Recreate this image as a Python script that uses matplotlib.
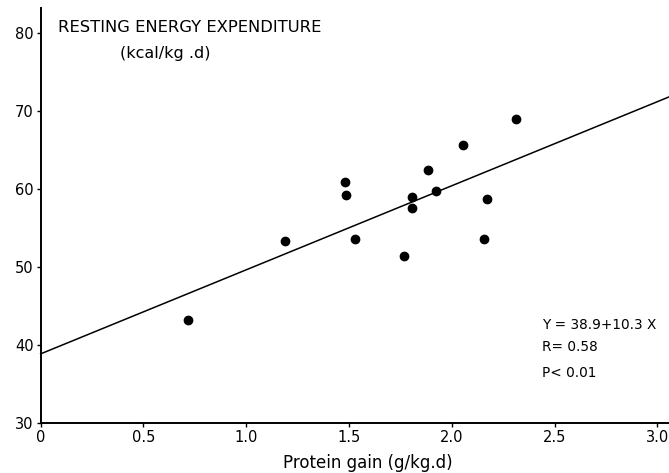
import numpy as np
import matplotlib
matplotlib.use("Agg")
from matplotlib import pyplot as plt

# protein gain (g/kg.d) vs resting energy expenditure (kcal/kg.d)
protein_gain = [0.715, 1.189, 1.481, 1.486, 1.529, 1.766, 1.807,
                1.805, 1.886, 1.924, 2.054, 2.173, 2.157, 2.314]
ree = [43.2, 53.4, 60.9, 59.3, 53.6, 51.4, 59.0,
       57.6, 62.5, 59.7, 65.6, 58.7, 53.6, 69.0]

# regression line as drawn in the figure (read at x = 0 and x = 3.0)
line_x = [0.0, 3.0]
line_y = [38.9, 71.2]

x_ticks = [0, 0.5, 1.0, 1.5, 2.0, 2.5, 3.0]
x_labels = ["0", "0.5", "1.0", "1.5", "2.0", "2.5", "3.0"]
y_ticks = [30, 40, 50, 60, 70, 80]

plt.rcParams['font.family'] = ['DejaVu Sans']

W, H = 669, 473
fig = plt.figure(figsize=(W / 100, H / 100), dpi=100)
ax = fig.add_axes([0.0608, 0.105, 0.9392, 0.878])

x_max = 3.057
ax.set_xlim(0, x_max)
ax.set_ylim(30, 83.2)

# extend the line to the right edge of the axes
k = (line_y[1] - line_y[0]) / (line_x[1] - line_x[0])
xx = np.array([line_x[0], x_max])
ax.plot(xx, line_y[0] + k * (xx - line_x[0]), color='black', lw=1.1, clip_on=False)
ax.scatter(protein_gain, ree, s=36, color='black', zorder=3)

ax.spines['top'].set_visible(False)
ax.spines['right'].set_visible(False)
ax.spines['left'].set_linewidth(1.4)
ax.spines['bottom'].set_linewidth(1.4)

ax.set_xticks(x_ticks)
ax.set_xticklabels(x_labels)
ax.set_yticks(y_ticks)
ax.tick_params(direction='out', length=3, width=1, labelsize=10.5, pad=2)


def px_text(x, y, s, **kw):
    # place text by pixel position measured from the top-left corner
    fig.text(x / W, 1 - y / H, s, va='center', **kw)


px_text(368, 463, "Protein gain (g/kg.d)", fontsize=12, ha='center')
px_text(58, 28, "RESTING ENERGY EXPENDITURE", fontsize=11.8, ha='left')
px_text(165, 53, "(kcal/kg .d)", fontsize=11.5, ha='center')

px_text(542, 325, "Y = 38.9+10.3 X", fontsize=9.8, ha='left')
px_text(542, 347, "R= 0.58", fontsize=9.8, ha='left')
px_text(542, 373, "P< 0.01", fontsize=9.8, ha='left')

fig.savefig("out.png", dpi=100)
